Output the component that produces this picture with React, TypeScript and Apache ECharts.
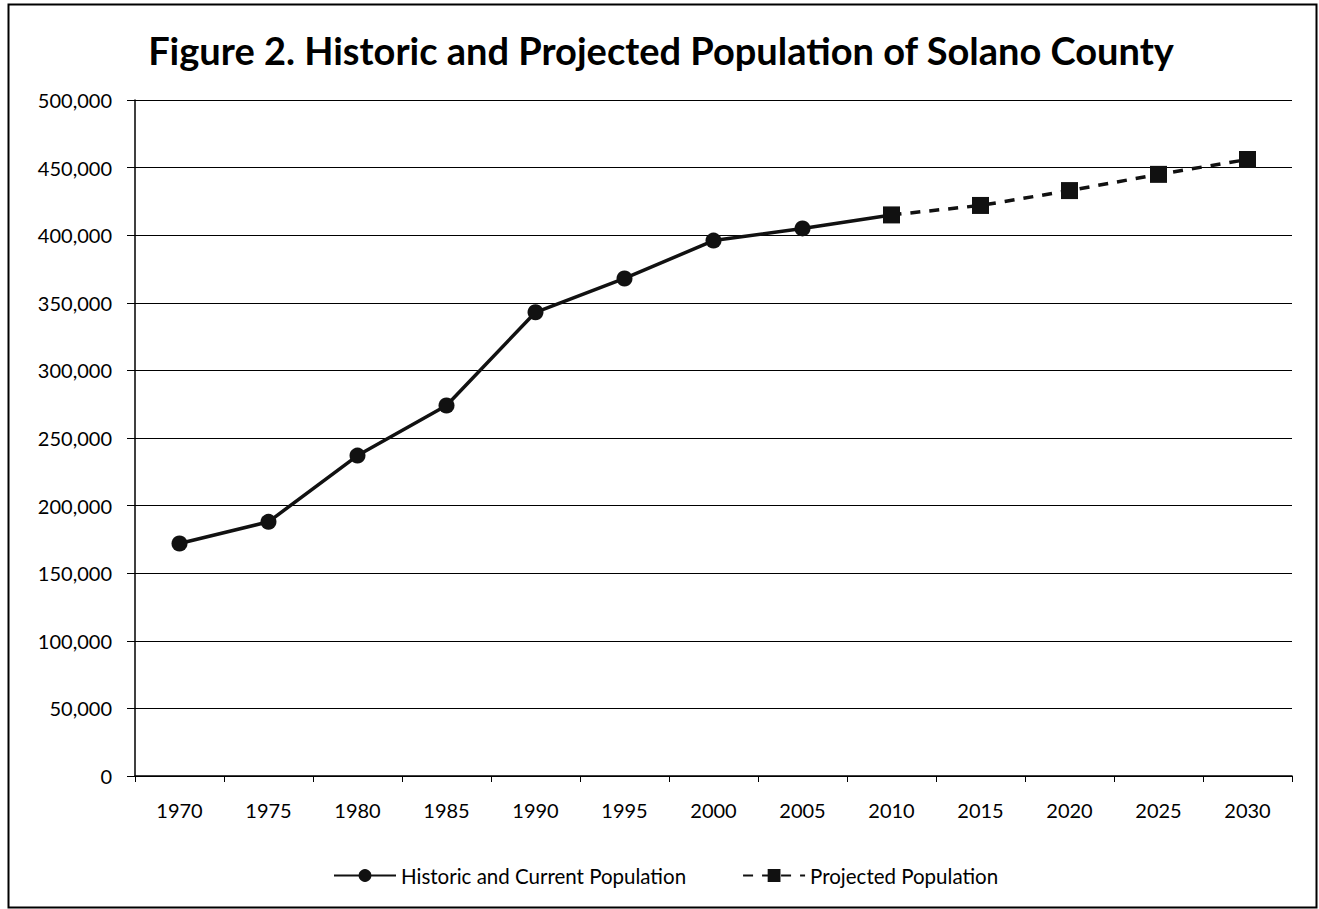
import React, { useEffect, useRef } from "react";
import * as echarts from "echarts";

const years = ["1970", "1975", "1980", "1985", "1990", "1995", "2000", "2005", "2010", "2015", "2020", "2025", "2030"];
const historic = [172000, 188000, 237000, 274000, 343000, 368000, 396000, 405000, 415000, null, null, null, null];
const projected = [null, null, null, null, null, null, null, null, 415000, 422000, 433000, 445000, 456000];
const titleText = "Figure 2. Historic and Projected Population of Solano County";
const seriesNames = ["Historic and Current Population", "Projected Population"];

const FONT = "Lato, 'Open Sans', sans-serif";

export default function App() {
  const ref = useRef<HTMLDivElement>(null);
  useEffect(() => {
    document.body.style.margin = "0";
    const chart = echarts.init(ref.current!, null, { renderer: "svg" });
    chart.setOption({
      animation: false,
      backgroundColor: "#fff",
      textStyle: { fontFamily: FONT },
      title: {
        text: titleText,
        left: 656,
        textAlign: "center",
        top: 26,
        textStyle: { fontFamily: FONT, fontSize: 38, fontWeight: "bold", color: "#000" },
      },
      graphic: [
        {
          type: "rect",
          shape: { x: 8.5, y: 4.5, width: 1308, height: 903 },
          style: { fill: "none", stroke: "#000", lineWidth: 2 },
          silent: true,
        },
      ],
      grid: { left: 135, right: 27, top: 100, bottom: 133 },
      legend: {
        bottom: 18,
        left: 328,
        itemGap: 56,
        itemWidth: 62,
        itemHeight: 16,
        textStyle: { fontFamily: FONT, fontSize: 20.5, color: "#000" },
        data: seriesNames,
      },
      xAxis: {
        type: "category",
        data: years,
        boundaryGap: true,
        axisLine: { lineStyle: { color: "#000", width: 1.5 } },
        axisTick: { show: true, length: 6, lineStyle: { color: "#000" } },
        axisLabel: { color: "#000", fontSize: 20, fontFamily: FONT, margin: 24 },
      },
      yAxis: {
        type: "value",
        min: 0,
        max: 500000,
        interval: 50000,
        axisLine: { show: true, lineStyle: { color: "#000", width: 1.5 } },
        axisTick: { show: true, length: 8, lineStyle: { color: "#000" } },
        splitLine: { lineStyle: { color: "#000", width: 1 } },
        axisLabel: {
          color: "#000",
          fontSize: 20,
          fontFamily: FONT,
          margin: 23,
          formatter: (v: number) => v.toLocaleString("en-US"),
        },
      },
      series: [
        {
          name: seriesNames[0],
          type: "line",
          data: historic,
          symbol: "circle",
          symbolSize: 16,
          itemStyle: { color: "#111" },
          lineStyle: { color: "#111", width: 3.5 },
          z: 2,
        },
        {
          name: seriesNames[1],
          type: "line",
          data: projected,
          symbol: "rect",
          symbolSize: 17,
          itemStyle: { color: "#111" },
          lineStyle: { color: "#111", width: 3.5, type: [10, 9] },
          z: 3,
        },
      ],
    });
    return () => chart.dispose();
  }, []);
  return <div ref={ref} style={{ width: 1319, height: 909 }} />;
}
